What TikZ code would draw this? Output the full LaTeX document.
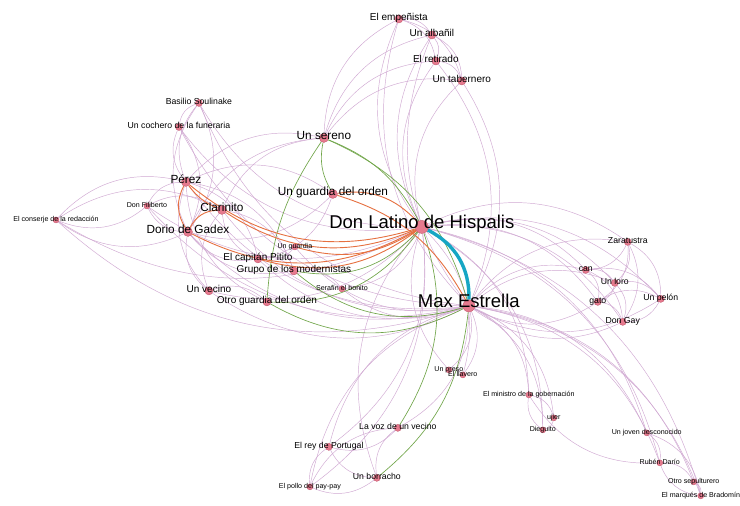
\documentclass[tikz,border=0pt]{standalone}
\usepackage{fontspec}
\setmainfont{Liberation Sans}
\pgfdeclarelayer{bg}\pgfdeclarelayer{fg}\pgfsetlayers{bg,main,fg}
\definecolor{epurp}{RGB}{208,168,210}
\definecolor{eorange}{RGB}{230,112,64}
\definecolor{egreen}{RGB}{112,165,72}
\definecolor{ecyan}{RGB}{22,166,196}
\definecolor{nfill}{RGB}{230,122,142}
\definecolor{ndraw}{RGB}{196,88,110}
\tikzset{
  vx/.style={circle, fill=nfill, draw=ndraw, line width=0.4pt, inner sep=0pt, minimum size=#1},
  lab/.style={anchor=base, inner sep=0pt, text=black, yshift=-2pt},
  fXL/.style={font=\fontsize{18.5}{18.5}\selectfont},
  fL/.style={font=\fontsize{11.8}{11.8}\selectfont},
  fM/.style={font=\fontsize{10}{10}\selectfont},
  fS/.style={font=\fontsize{8.7}{8.7}\selectfont},
  fXS/.style={font=\fontsize{7.1}{7.1}\selectfont},
  pe/.style={draw=epurp, line width=0.45pt},
  oe/.style={draw=eorange, line width=0.9pt},
  ge/.style={draw=egreen, line width=0.65pt},
  ce/.style={draw=ecyan, line width=3.4pt},
}
\begin{document}
\begin{tikzpicture}[x=1pt,y=-1pt]
\begin{pgfonlayer}{bg}
\path[use as bounding box, fill=white] (0,0) rectangle (740,506);
\end{pgfonlayer}
% vertices
\node[vx=13pt] (DL) at (422,227) {};
\node[vx=12pt] (ME) at (469,306) {};
\node[vx=8pt] (emp) at (399,19) {};
\node[vx=8pt] (alb) at (432,35) {};
\node[vx=8pt] (ret) at (436,61) {};
\node[vx=8pt] (tab) at (462,81) {};
\node[vx=9pt] (ser) at (324,138) {};
\node[vx=7pt] (bas) at (199,103) {};
\node[vx=7pt] (coch) at (179,127) {};
\node[vx=9pt] (per) at (186,182) {};
\node[vx=6pt] (fil) at (147,206) {};
\node[vx=6pt] (con) at (56,220) {};
\node[vx=9pt] (cla) at (222,210) {};
\node[vx=9pt] (dor) at (188,232) {};
\node[vx=9pt] (ug) at (333,194) {};
\node[vx=6pt] (ugd) at (295,247) {};
\node[vx=8pt] (cap) at (258,259) {};
\node[vx=8pt] (gru) at (294,271) {};
\node[vx=8pt] (vec) at (209,291) {};
\node[vx=8pt] (ogo) at (267,302) {};
\node[vx=6pt] (sera) at (342,289) {};
\node[vx=7pt] (zar) at (628,242) {};
\node[vx=7pt] (can) at (586,270) {};
\node[vx=7pt] (lor) at (615,283) {};
\node[vx=7pt] (gat) at (598,302) {};
\node[vx=7pt] (pel) at (661,299) {};
\node[vx=7pt] (gay) at (623,322) {};
\node[vx=6pt] (pre) at (449,370) {};
\node[vx=6pt] (lla) at (463,375) {};
\node[vx=6pt] (min) at (529,395) {};
\node[vx=6pt] (uji) at (554,418) {};
\node[vx=6pt] (die) at (543,430) {};
\node[vx=6pt] (jov) at (647,433) {};
\node[vx=6pt] (rub) at (660,463) {};
\node[vx=6pt] (sep) at (694,482) {};
\node[vx=6pt] (mar) at (701,496) {};
\node[vx=7pt] (voz) at (398,428) {};
\node[vx=7pt] (rey) at (329,447) {};
\node[vx=7pt] (bor) at (377,478) {};
\node[vx=6pt] (pol) at (310,487) {};
% edges
\begin{pgfonlayer}{bg}
\foreach \a/\b in {DL/emp,DL/alb,DL/ret,DL/tab,tab/ME,ret/ME,ser/emp,ser/alb,ser/ret,ser/tab,
  emp/alb,emp/ret,alb/ret,alb/tab,ret/tab,emp/tab,
  DL/fil,DL/con,DL/bas,DL/coch,ME/per,ME/cla,ME/dor,ME/fil,ME/con,ME/bas,ME/coch,
  per/ser,cla/ser,dor/ser,coch/bas,per/bas,bas/dor,coch/dor,dor/bas,
  fil/con,con/cla,fil/per,fil/cla,con/per,
  ME/cap,ME/ugd,ME/vec,ME/sera,DL/vec,DL/sera,per/cap,cla/gru,per/gru,vec/ogo,cap/gru,ugd/cap,gru/sera,ug/dor,ug/cap,
  DL/zar,DL/can,DL/lor,DL/gat,DL/pel,DL/gay,ME/zar,ME/can,ME/lor,
  zar/can,zar/lor,zar/gat,zar/gay,zar/pel,can/lor,can/gat,can/pel,can/gay,lor/gat,lor/pel,lor/gay,gat/pel,gat/gay,pel/gay,
  ME/pre,ME/lla,pre/lla,DL/lla,ME/min,ME/uji,ME/die,DL/min,DL/die,min/uji,uji/die,
  ME/rub,ME/jov,ME/sep,ME/mar,DL/rub,DL/mar,DL/jov,rub/sep,sep/mar,jov/rub,jov/mar,
  ME/voz,DL/rey,voz/rey,pol/rey,pol/voz,DL/pol}
  {\draw[pe] (\a) to[bend left=30] (\b);}
\foreach \a/\b in {emp/ME,alb/ME,coch/per,con/dor,fil/dor,dor/cap,dor/gru,cla/vec,dor/vec,per/vec,per/ogo,ug/per,
  ME/gat,ME/pel,ME/gay,DL/pre,min/die,min/rub,rub/mar,ME/rey,ME/pol,DL/bor,voz/bor,rey/bor,pol/bor,cla/cap}
  {\draw[pe] (\a) to[bend right=30] (\b);}
% green
\draw[ge] (ser) to[bend left=20] (DL);
\draw[ge] (ser) to[bend left=25] (ME);
\draw[ge] (ug) to[bend left=20] (ser);
\draw[ge] (ser) to[bend right=15] (ogo);
\draw[ge] (DL) to[bend left=28] (gru);
\draw[ge] (DL) to[bend left=28] (ogo);
\draw[ge] (ME) to[bend left=28] (ogo);
\draw[ge] (ME) to[bend left=28] (gru);
\draw[ge] (DL) to[bend left=25] (voz);
\draw[ge] (ME) to[bend left=22] (bor);
% orange
\draw[oe] (DL) to[bend left=28] (per);
\draw[oe] (DL) to[bend left=28] (cla);
\draw[oe] (DL) to[bend left=28] (dor);
\draw[oe] (DL) to[bend left=24] (ugd);
\draw[oe] (DL) to[bend left=26] (cap);
\draw[oe] (ug) to[bend left=28] (DL);
\draw[oe] (ug) to[bend left=22] (ME);
\draw[oe] (per) to[bend right=30] (dor);
\draw[oe] (dor) to[bend left=30] (cla);
\draw[oe] (per) to[bend right=15] (cla);
% cyan
\draw[ce] (DL) to[bend left=32] (ME);
\end{pgfonlayer}
% labels
\begin{pgfonlayer}{fg}
\node[lab,fXL] (tDL) at (DL) {Don Latino de Hispalis};
\node[lab,fXL] (tME) at (ME) {Max Estrella};
\node[lab,fM] (temp) at (emp) {El empeñista};
\node[lab,fM] (talb) at (alb) {Un albañil};
\node[lab,fM] (tret) at (ret) {El retirado};
\node[lab,fM] (ttab) at (tab) {Un tabernero};
\node[lab,fL] (tser) at (ser) {Un sereno};
\node[lab,fS] (tbas) at (bas) {Basilio Soulinake};
\node[lab,fS] (tcoch) at (coch) {Un cochero de la funeraria};
\node[lab,fL] (tper) at (per) {Pérez};
\node[lab,fXS] (tfil) at (fil) {Don Filiberto};
\node[lab,fXS] (tcon) at (con) {El conserje de la redacción};
\node[lab,fL] (tcla) at (cla) {Clarinito};
\node[lab,fL] (tdor) at (dor) {Dorio de Gadex};
\node[lab,fL] (tug) at (ug) {Un guardia del orden};
\node[lab,fXS] (tugd) at (ugd) {Un guardia};
\node[lab,fM] (tcap) at (cap) {El capitán Pitito};
\node[lab,fM] (tgru) at (gru) {Grupo de los modernistas};
\node[lab,fM] (tvec) at (vec) {Un vecino};
\node[lab,fM] (togo) at (ogo) {Otro guardia del orden};
\node[lab,fXS] (tsera) at (sera) {Serafín el bonito};
\node[lab,fS] (tzar) at (zar) {Zaratustra};
\node[lab,fS] (tcan) at (can) {can};
\node[lab,fS] (tlor) at (lor) {Un loro};
\node[lab,fS] (tgat) at (gat) {gato};
\node[lab,fS] (tpel) at (pel) {Un pelón};
\node[lab,fS] (tgay) at (gay) {Don Gay};
\node[lab,fXS] (tpre) at (pre) {Un preso};
\node[lab,fXS] (tlla) at (lla) {El llavero};
\node[lab,fXS] (tmin) at (min) {El ministro de la gobernación};
\node[lab,fXS] (tuji) at (uji) {ujier};
\node[lab,fXS] (tdie) at (die) {Dieguito};
\node[lab,fXS] (tjov) at (jov) {Un joven desconocido};
\node[lab,fXS] (trub) at (rub) {Rubén Darío};
\node[lab,fXS] (tsep) at (sep) {Otro sepulturero};
\node[lab,fXS] (tmar) at (mar) {El marqués de Bradomín};
\node[lab,fS] (tvoz) at (voz) {La voz de un vecino};
\node[lab,fS] (trey) at (rey) {El rey de Portugal};
\node[lab,fS] (tbor) at (bor) {Un borracho};
\node[lab,fXS] (tpol) at (pol) {El pollo del pay-pay};
\end{pgfonlayer}
\end{tikzpicture}
\end{document}
